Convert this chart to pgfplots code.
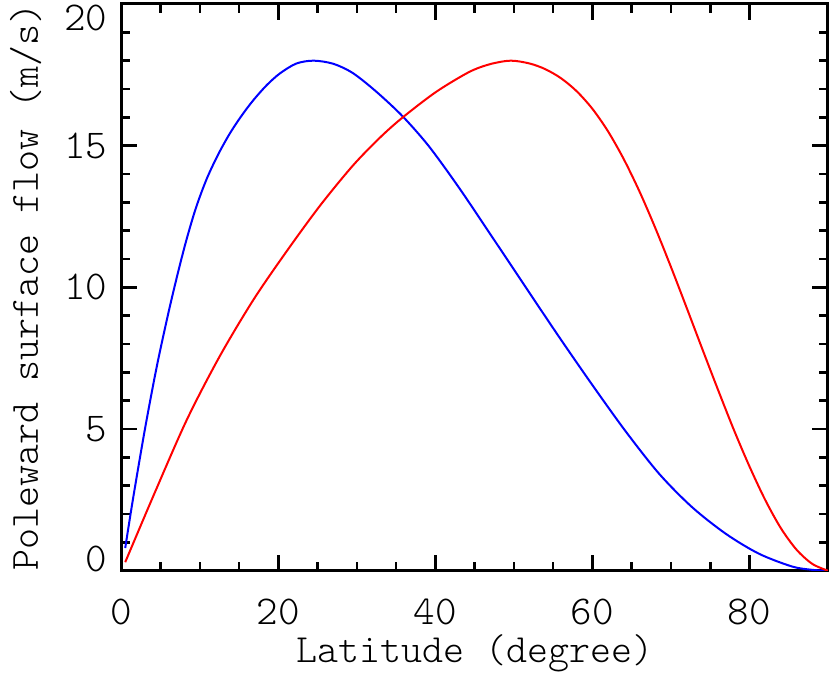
\documentclass[border=0pt]{standalone}
\usepackage{fontspec}
\setmainfont{lmmonolt10-regular.otf}
\usepackage{pgfplots}
\pgfplotsset{compat=1.18}

\begin{document}
\begin{tikzpicture}
\begin{axis}[
    name=ax,
    scale only axis,
    width=353.35pt, height=283.35pt,
    xmin=0, xmax=90, ymin=0, ymax=20,
    xtick={0,20,40,60,80}, minor x tick num=3,
    ytick={0,5,10,15,20}, minor y tick num=4,
    tick align=inside,
    major tick length=8pt, minor tick length=4.5pt,
    every tick/.style={black, line width=1.3pt},
    axis line style={line width=1.5pt},
    /pgf/number format/assume math mode=true,
    tick label style={font=\fontsize{20.5}{22}\selectfont, inner sep=0pt},
    xticklabel style={anchor=north, inner sep=0pt},
    yticklabel style={anchor=east, inner sep=0pt},
    xticklabel shift=14pt,
    yticklabel shift=6.7pt,
    xticklabels={0,20,40,60,80},
    yticklabels={\raisebox{6pt}[\height][\depth]{0},5,10,15,\raisebox{-7pt}[\height][\depth]{20}},
    xlabel={Latitude (degree)},
    ylabel={Poleward surface flow (m/s)},
    label style={font=\fontsize{20}{22}\selectfont, inner sep=0pt},
    xlabel style={at={(axis description cs:0.5,-0.145)}, anchor=center},
    ylabel style={at={(axis description cs:-0.1355,0.5)}, anchor=center},
]
% blue profile
\addplot[color=blue, line width=1pt, smooth, tension=0.5] table {
0.5  0.80
1.5  2.55
3.0  4.98
4.5  7.18
6.0  9.10
7.2  10.50
8.3  11.68
9.5  12.80
10.85 13.81
12.3 14.67
13.8 15.42
15.3 16.05
16.8 16.60
18.5 17.13
20.2 17.55
22.3 17.90
24.5 18.00
27.0 17.89
29.5 17.56
32.5 16.90
35.85 16.03
39.2 14.97
43.05 13.50
47.3 11.75
52.6 9.55
56.0 8.15
60.0 6.55
64.2 4.93
68.5 3.42
72.7 2.24
77.0 1.30
81.2 0.60
85.4 0.15
88.0 0.03
90.0 0.00
};
% red profile
\addplot[color=red, line width=1pt, smooth, tension=0.5] table {
0.5  0.30
4.1  2.65
8.3  5.30
12.5 7.55
16.8 9.55
21.0 11.25
25.3 12.88
29.5 14.30
33.0 15.30
35.85 16.00
40.1 16.90
44.3 17.60
47.0 17.88
49.6 18.00
52.0 17.90
54.0 17.70
56.0 17.38
58.0 16.92
60.0 16.30
62.0 15.50
64.0 14.52
66.0 13.38
68.0 12.10
70.0 10.72
72.0 9.28
74.0 7.82
76.0 6.38
78.0 4.98
80.0 3.68
82.0 2.50
84.0 1.50
86.0 0.74
88.0 0.24
90.0 0.00
};
\end{axis}
\pgfresetboundingbox
\path ([shift={(-60.65pt,-55.15pt)}]ax.south west) rectangle ([shift={(1.5pt,2pt)}]ax.north east);
\end{tikzpicture}
\end{document}
